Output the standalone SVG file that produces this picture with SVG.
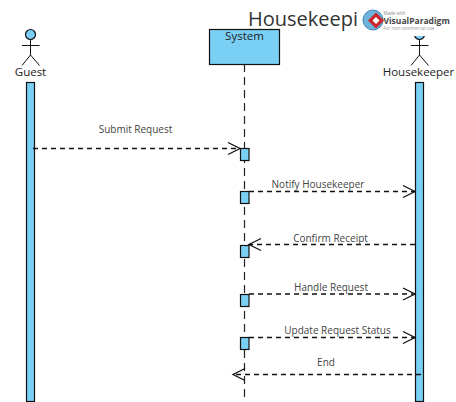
<svg xmlns="http://www.w3.org/2000/svg" width="456" height="402" viewBox="0 0 456 402">
<style>
text{font-family:"Open Sans","Noto Sans","Liberation Sans",sans-serif}
.fill{fill:#7acff5;stroke:#111;stroke-width:1.2}
.stick{fill:none;stroke:#111;stroke-width:1}
.actor{font-size:11.500px;fill:#222;text-anchor:middle}
.msg{font-size:10px;fill:#444;text-anchor:middle}
.life{fill:none;stroke:#222;stroke-width:1.2;stroke-dasharray:8 5}
.dash{fill:none;stroke:#111;stroke-width:1.300;stroke-dasharray:5 4}
.head{fill:none;stroke:#111;stroke-width:1.300}
</style>
<rect width="456" height="402" fill="#fff"/>
<text id="title" x="248" y="26" font-size="20" fill="#333">Housekeepi</text>
<g id="lifelines">
<path class="life" d="M244.500 64V402"/>
</g>
<g id="guest">
<circle class="fill" cx="30.500" cy="34.500" r="5"/>
<path class="stick" d="M30.500 39.500V55M22 45.500H39.500M22 65.500L30.500 55L39.500 65.500"/>
<text class="actor" x="30.500" y="76">Guest</text>
<rect class="fill" x="26.500" y="82.500" width="8" height="319"/>
</g>
<g id="system">
<rect class="fill" x="209.500" y="29.500" width="70" height="35"/>
<text class="actor" x="244.500" y="40">System</text>
</g>
<g id="housekeeper">
<circle class="fill" cx="419.500" cy="34.500" r="5"/>
<path class="stick" d="M419.500 39.500V55M411 45.500H428.500M411 65.500L419.500 55L428.500 65.500"/>
<text class="actor" x="418.500" y="76">Housekeeper</text>
<rect class="fill" x="415.500" y="82.500" width="8" height="319"/>
</g>
<g id="activations">
<rect class="fill" x="240.500" y="148.500" width="8.500" height="12"/>
<rect class="fill" x="240.500" y="191.500" width="8.500" height="12"/>
<rect class="fill" x="240.500" y="245.500" width="8.500" height="12"/>
<rect class="fill" x="240.500" y="294.500" width="8.500" height="12"/>
<rect class="fill" x="240.500" y="337.500" width="8.500" height="12"/>
</g>
<g id="connectors">
<path class="dash" d="M33 148.500H240"/><path class="head" d="M228 142.500L240 148.500L228 154.500"/>
<path class="dash" d="M249 191.500H415"/><path class="head" d="M403 185.500L415 191.500L403 197.500"/>
<path class="dash" d="M415 244.500H249"/><path class="head" d="M261 238.500L249 244.500L261 250.500"/>
<path class="dash" d="M249 294H415"/><path class="head" d="M403 288L415 294L403 300"/>
<path class="dash" d="M249 337.500H415"/><path class="head" d="M403 331.500L415 337.500L403 343.500"/>
<path class="dash" d="M421 374.500H233"/><path class="head" d="M245 368.500L233 374.500L245 380.500"/>
</g>
<g id="labels">
<text class="msg" x="135.500" y="133">Submit Request</text>
<text class="msg" x="318" y="188">Notify Housekeeper</text>
<text class="msg" x="330.500" y="242">Confirm Receipt</text>
<text class="msg" x="331" y="291">Handle Request</text>
<text class="msg" x="337.500" y="334">Update Request Status</text>
<text class="msg" x="326" y="366">End</text>
</g>
<g id="watermark">
<rect x="358" y="5" width="94" height="31" rx="15" fill="#fff"/>
<circle cx="373" cy="20" r="10" fill="#6fb2dc" stroke="#3f86b8"/>
<path d="M376 12.500L384 20.500L376 28.500L368 20.500Z" fill="#c9262c"/>
<path d="M376 17L379.500 20.500L376 24L372.500 20.500Z" fill="#fff"/>
<text x="383.500" y="15" font-size="4.500" fill="#888">Made with</text>
<text x="383.500" y="23.500" font-size="8.500" font-weight="700" fill="#444">VisualParadigm</text>
<text x="383.500" y="30" font-size="4.500" fill="#999">For non-commercial use</text>
</g>
</svg>
